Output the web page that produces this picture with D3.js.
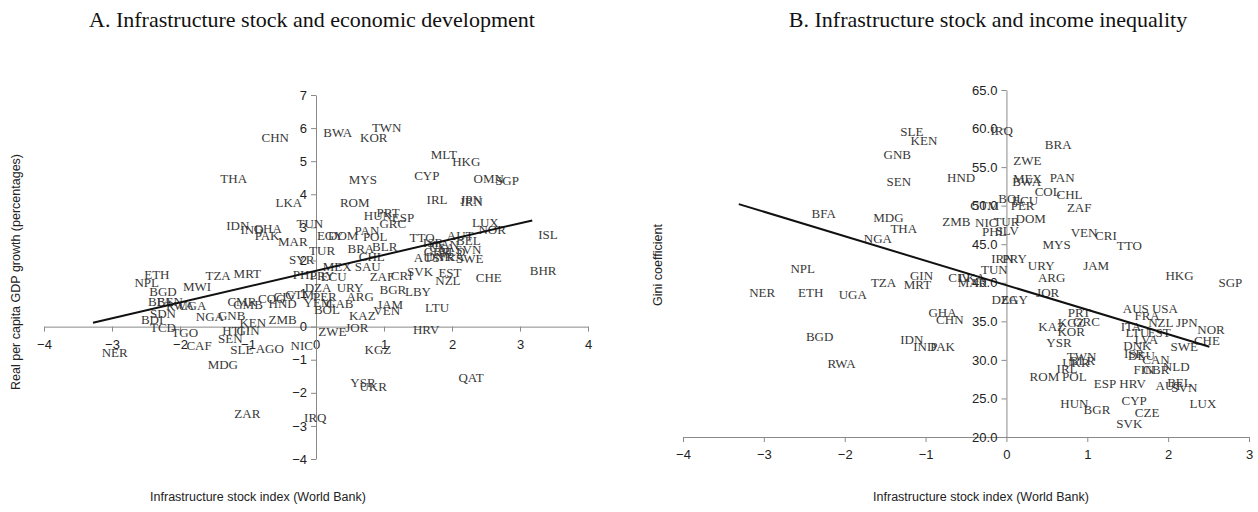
<!DOCTYPE html>
<html>
<head>
<meta charset="utf-8">
<script src="https://cdn.jsdelivr.net/npm/d3@7"></script>
<style>
  body { margin: 0; background: #fff; }
  svg text { font-family: "Liberation Sans", Arial, sans-serif; }
</style>
</head>
<body>
<svg id="chart"></svg>
<script>
// ---- Panel A: infrastructure stock vs real per capita GDP growth ----
const growthCodes = ["CHN","THA","LKA","IDN","IND","GHA","PAK","MAR","TUN","BWA","TWN","KOR","MLT","HKG","MYS","CYP","OMN","SGP","ROM","IRL","JPN","IRN","HUN","PRT","ESP","GRC","LUX","NOR","ISL","PAN","POL","EGY","DOM","TTO","AUT","BEL","BRA","BLR","TUR","CHL","SYR","MEX","SAU","PHL","PRY","ECU","DZA","URY","PER","ARG","YEM","GAB","BOL","KAZ","ZWE","JOR","KGZ","YSR","UKR","QAT","IRQ","ZAF","CRI","SVK","EST","NZL","CHE","BHR","BGR","LBY","JAM","VEN","LTU","HRV","ISR","USA","CAN","NLD","GBR","SVN","AUS","DNK","FRA","SWE","ETH","NPL","BGD","BFA","BEN","RWA","UGA","SDN","BDI","TCD","TGO","NER","CAF","TZA","MRT","MWI","NGA","GNB","CMR","GMB","COG","CIV","GTM","HND","ZMB","KEN","HTI","GIN","SEN","SLE","AGO","NIC","MDG","ZAR"];
const growthInfra = [-0.60,-1.21,-0.40,-1.15,-0.94,-0.71,-0.72,-0.34,-0.09,0.32,1.04,0.85,1.88,2.21,0.69,1.63,2.54,2.81,0.57,1.78,2.28,2.29,0.91,1.06,1.28,1.13,2.49,2.59,3.41,0.75,0.87,0.21,0.40,1.56,2.12,2.24,0.66,1.01,0.09,0.82,-0.21,0.31,0.76,-0.16,0.09,0.26,0.03,0.50,0.13,0.65,0.03,0.35,0.16,0.68,0.24,0.60,0.91,0.69,0.84,2.28,-0.01,0.97,1.26,1.53,1.97,1.94,2.54,3.34,1.13,1.50,1.09,1.04,1.78,1.62,1.72,1.85,1.90,2.00,1.78,2.24,1.63,1.82,2.00,2.26,-2.34,-2.49,-2.25,-2.29,-2.15,-2.00,-1.82,-2.25,-2.41,-2.25,-1.93,-2.96,-1.72,-1.44,-1.01,-1.75,-1.56,-1.24,-1.09,-1.00,-0.65,-0.46,-0.24,-0.49,-0.49,-0.93,-1.22,-1.00,-1.26,-1.09,-0.68,-0.21,-1.37,-1.01];
const growthRate = [5.73,4.48,3.76,3.06,2.94,2.97,2.76,2.58,3.12,5.88,6.03,5.73,5.21,5.00,4.45,4.58,4.48,4.42,3.76,3.85,3.85,3.79,3.36,3.45,3.30,3.12,3.15,2.94,2.79,2.91,2.73,2.76,2.76,2.70,2.76,2.61,2.36,2.42,2.30,2.12,2.03,1.82,1.82,1.58,1.55,1.52,1.18,1.18,0.91,0.91,0.73,0.70,0.52,0.33,-0.15,-0.03,-0.70,-1.70,-1.82,-1.55,-2.73,1.52,1.55,1.67,1.64,1.39,1.48,1.70,1.12,1.06,0.67,0.48,0.58,-0.09,2.55,2.39,2.48,2.27,2.27,2.33,2.09,2.12,2.12,2.06,1.58,1.33,1.06,0.76,0.76,0.64,0.64,0.39,0.21,-0.03,-0.18,-0.79,-0.58,1.55,1.61,1.21,0.30,0.33,0.76,0.67,0.85,0.91,0.97,0.70,0.21,0.12,-0.12,-0.12,-0.36,-0.70,-0.67,-0.58,-1.15,-2.61];
const growthTrendX = [-3.28, 3.18];
const growthTrendY = [0.12, 3.21];
const growthXTicks = [-4, -3, -2, -1, 0, 1, 2, 3, 4];
const growthYTicks = [-4, -3, -2, -1, 0, 1, 2, 3, 4, 5, 6, 7];

// ---- Panel B: infrastructure stock vs Gini coefficient ----
const giniCodes = ["SLE","KEN","GNB","SEN","HND","BFA","MDG","THA","NGA","ZMB","IRQ","BRA","ZWE","MEX","BWA","PAN","COL","CHL","BOL","ECU","PER","ZAF","GTM","DOM","NIC","TUR","PHL","SLV","VEN","CRI","TTO","MYS","NPL","NER","ETH","UGA","TZA","GIN","MRT","CIV","LKA","MAR","TUN","IRN","PRY","URY","JAM","ARG","HKG","SGP","DZA","EGY","JOR","GHA","CHN","IDN","IND","PAK","BGD","RWA","PRT","KGZ","GRC","KAZ","KOR","YSR","TWN","BLR","UKR","IRL","ROM","POL","ESP","HRV","HUN","BGR","CYP","CZE","SVK","LUX","AUS","USA","FRA","ITA","NZL","JPN","LTU","EST","NOR","CHE","SWE","LVA","DNK","ISR","DEU","CAN","NLD","FIN","GBR","AUT","BEL","SVN"];
const giniInfra = [-1.17,-1.02,-1.35,-1.33,-0.56,-2.26,-1.46,-1.27,-1.59,-0.62,-0.06,0.64,0.26,0.26,0.25,0.69,0.51,0.78,0.06,0.23,0.20,0.90,-0.27,0.30,-0.25,0.00,-0.15,0.01,0.96,1.23,1.52,0.62,-2.52,-3.02,-2.42,-1.90,-1.52,-1.05,-1.10,-0.58,-0.43,-0.42,-0.15,-0.05,0.10,0.43,1.11,0.56,2.14,2.77,-0.02,0.10,0.51,-0.79,-0.70,-1.17,-1.01,-0.79,-2.31,-2.04,0.90,0.80,0.99,0.56,0.80,0.65,0.93,0.94,0.86,0.75,0.47,0.84,1.22,1.56,0.84,1.12,1.58,1.74,1.52,2.43,1.60,1.96,1.74,1.54,1.91,2.23,1.62,1.89,2.53,2.48,2.20,1.73,1.62,1.58,1.67,1.85,2.10,1.70,1.85,2.01,2.14,2.20];
const giniValue = [59.6,58.4,56.6,53.2,53.7,49.0,48.5,47.1,45.7,47.9,59.7,58.0,55.8,53.5,53.2,53.6,51.8,51.4,51.0,50.7,50.0,49.8,50.0,48.4,47.8,47.9,46.6,46.8,46.5,46.1,44.9,45.0,41.9,38.8,38.8,38.5,40.1,41.0,39.8,40.75,40.75,40.0,41.7,43.2,43.2,42.2,42.2,40.75,40.9,40.1,37.8,37.8,38.7,36.2,35.2,32.6,31.8,31.8,33.1,29.6,36.1,34.9,35.0,34.3,33.7,32.2,30.4,29.9,29.7,28.9,27.8,27.8,27.0,26.9,24.4,23.6,24.8,23.2,21.8,24.3,36.7,36.7,35.8,34.4,34.9,34.9,33.5,33.5,34.0,32.5,31.7,32.6,31.9,30.8,30.6,30.1,29.2,28.7,28.7,26.7,27.1,26.4];
const giniTrendX = [-3.31, 2.51];
const giniTrendY = [50.2, 31.7];
const giniXTicks = [-4, -3, -2, -1, 0, 1, 2, 3];
const giniYTicks = [20, 25, 30, 35, 40, 45, 50, 55, 60, 65];

const svg = d3.select("#chart").attr("width", 1258).attr("height", 512);

const AXIS_COLOR = "#8a8a8a";
const TICK_FONT = 13;

function drawPanel(p) {
  const g = svg.append("g");
  const x = d3.scaleLinear().domain(p.xDomain).range(p.xRange);
  const y = d3.scaleLinear().domain(p.yDomain).range(p.yRange);

  // horizontal axis crosses at p.xAxisAt, vertical axis at p.yAxisAt
  const xAxis = g.append("g")
    .attr("transform", `translate(0,${y(p.xAxisAt)})`)
    .call(d3.axisBottom(x).tickValues(p.xTicks).tickSize(5).tickSizeOuter(0)
      .tickPadding(8).tickFormat(d3.format("d")));
  const yAxis = g.append("g")
    .attr("transform", `translate(${x(p.yAxisAt)},0)`)
    .call(d3.axisLeft(y).tickValues(p.yTicks).tickSize(5).tickSizeOuter(0)
      .tickPadding(4).tickFormat(p.yFormat));

  [xAxis, yAxis].forEach(a => {
    a.select(".domain").attr("stroke", AXIS_COLOR).attr("stroke-width", 1);
    a.selectAll(".tick line").attr("stroke", AXIS_COLOR);
    a.selectAll(".tick text")
      .attr("fill", "#222")
      .style("font-family", "'Liberation Sans', Arial, sans-serif")
      .style("font-size", TICK_FONT + "px");
  });

  // country code labels
  g.append("g").selectAll("text")
    .data(p.codes.map((c, i) => ({ c, vx: p.xs[i], vy: p.ys[i] })))
    .join("text")
    .attr("x", d => x(d.vx))
    .attr("y", d => y(d.vy))
    .attr("dy", "0.35em")
    .attr("text-anchor", "middle")
    .attr("fill", "#383838")
    .style("font-family", "'Liberation Serif', 'Times New Roman', serif")
    .style("font-size", "13px")
    .text(d => d.c);

  // linear trend
  g.append("path")
    .datum(p.trendX.map((v, i) => [v, p.trendY[i]]))
    .attr("fill", "none")
    .attr("stroke", "#111")
    .attr("stroke-width", 2)
    .attr("d", d3.line().x(d => x(d[0])).y(d => y(d[1])));

  // titles
  svg.append("text")
    .attr("x", p.titleX).attr("y", 27)
    .attr("text-anchor", "middle")
    .attr("fill", "#111")
    .style("font-family", "'Liberation Serif', 'Times New Roman', serif")
    .style("font-size", "22px")
    .text(p.title);

  svg.append("text")
    .attr("x", p.xLabelX).attr("y", 501)
    .attr("text-anchor", "middle")
    .attr("fill", "#222")
    .style("font-size", "12.5px")
    .text(p.xLabel);

  svg.append("text")
    .attr("transform", `translate(${p.yLabelX},${p.yLabelY}) rotate(-90)`)
    .attr("text-anchor", "middle")
    .attr("fill", "#222")
    .style("font-size", "12.5px")
    .text(p.yLabel);
}

drawPanel({
  codes: growthCodes, xs: growthInfra, ys: growthRate,
  trendX: growthTrendX, trendY: growthTrendY,
  xDomain: [-4, 4], xRange: [44, 588],
  yDomain: [-4, 7], yRange: [459, 95],
  xAxisAt: 0, yAxisAt: 0,
  xTicks: growthXTicks, yTicks: growthYTicks, yFormat: d3.format("d"),
  title: "A. Infrastructure stock and economic development", titleX: 312,
  xLabel: "Infrastructure stock index (World Bank)", xLabelX: 258,
  yLabel: "Real per capita GDP growth (percentages)", yLabelX: 20, yLabelY: 272
});

drawPanel({
  codes: giniCodes, xs: giniInfra, ys: giniValue,
  trendX: giniTrendX, trendY: giniTrendY,
  xDomain: [-4, 3], xRange: [683, 1249],
  yDomain: [20, 65], yRange: [437, 90],
  xAxisAt: 20, yAxisAt: 0,
  xTicks: giniXTicks, yTicks: giniYTicks, yFormat: d3.format(".1f"),
  title: "B. Infrastructure stock and income inequality", titleX: 988,
  xLabel: "Infrastructure stock index (World Bank)", xLabelX: 981,
  yLabel: "Gini coefficient", yLabelX: 662, yLabelY: 265
});
</script>
</body>
</html>
